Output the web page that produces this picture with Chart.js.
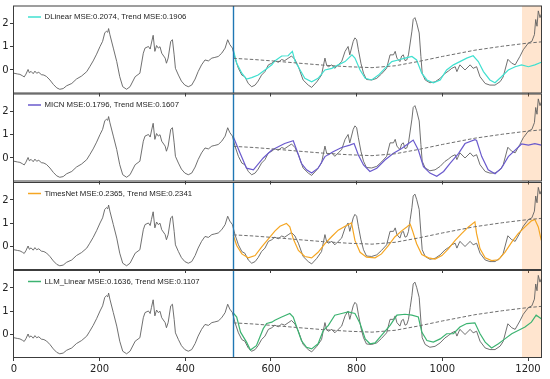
<!DOCTYPE html>
<html>
<head>
<meta charset="utf-8">
<script src="https://cdn.jsdelivr.net/npm/chart.js@4.4.1/dist/chart.umd.min.js"></script>
<style>
  html, body { margin: 0; padding: 0; background: #fff; }
  #wrap { position: relative; width: 550px; height: 379px; overflow: hidden; }
  #wrap canvas { position: absolute; left: 0; }
</style>
</head>
<body>
<div id="wrap">
  <canvas id="p0"></canvas>
  <canvas id="p1"></canvas>
  <canvas id="p2"></canvas>
  <canvas id="p3"></canvas>
</div>
<script>
// ---- data ----
const xTicks = [0, 200, 400, 600, 800, 1000, 1200];
const yTicks = [0, 1, 2];

const splitAt = 512;            // end of input window
const shadeFrom = 1186;         // highlighted tail
const shadeTo = 1232;

// ground truth, same in every panel
const gtX = [0, 8, 14, 20, 24, 28, 33, 36, 40, 45, 49, 53, 58, 64, 70, 76, 84, 92, 100, 107,
  115, 123, 135, 146, 158, 170, 177, 185, 193, 201, 207, 212, 216, 219, 221, 224, 232, 240, 247, 254,
  263, 271, 283, 294, 302, 306, 314, 318, 321, 325, 329, 333, 337, 341, 345, 353, 356, 360, 366, 370,
  374, 377, 384, 391, 399, 407, 415, 423, 430, 438, 446, 454, 462, 469, 477, 485, 493, 499, 504, 510,
  516, 524, 532, 539, 547, 555, 563, 570, 578, 586, 594, 602, 609, 617, 625, 632, 640, 648, 656, 664,
  675, 687, 695, 707, 718, 726, 730, 734, 742, 749, 757, 765, 773, 780, 784, 792, 796, 800, 804, 810,
  816, 823, 835, 847, 858, 870, 878, 886, 890, 894, 901, 905, 909, 913, 917, 921, 925, 929, 932, 936,
  940, 946, 950, 953, 960, 971, 983, 995, 1006, 1014, 1022, 1030, 1034, 1041, 1053, 1065, 1072, 1080, 1088, 1100,
  1111, 1123, 1135, 1142, 1153, 1162, 1170, 1181, 1189, 1201, 1209, 1215, 1218, 1221, 1224, 1228, 1231];
const gtY = [-0.14, -0.17, -0.19, -0.25, -0.3, -0.18, 0.02, -0.12, -0.06, -0.16, -0.05, -0.14, -0.1, -0.2, -0.22, -0.28, -0.43, -0.62, -0.77, -0.83,
  -0.8, -0.68, -0.58, -0.39, -0.26, -0.07, 0.14, 0.39, 0.68, 1.01, 1.23, 1.59, 1.67, 1.62, 1.78, 1.52, 0.94, 0.36, -0.29, -0.72,
  -0.83, -0.72, -0.29, -0.14, 0.72, 0.94, 1.01, 0.9, 1.16, 1.49, 0.8, 1.05, 0.94, 1.0, 0.72, 0.51, 0.29, 0.51, 1.23, 1.3,
  0.65, 0.07, -0.22, -0.48, -0.65, -0.72, -0.65, -0.39, -0.07, 0.22, 0.43, 0.39, 0.51, 0.54, 0.58, 0.72, 0.94, 1.3, 1.09, 0.94,
  0.51, 0.07, -0.22, -0.29, -0.58, -0.72, -0.65, -0.48, -0.22, -0.07, 0.22, 0.29, 0.4, 0.33, 0.45, 0.4, 0.5, 0.6, 0.45, 0.14,
  -0.43, -0.65, -0.75, -0.51, -0.22, 0.51, 0.2, 0.14, 0.22, 0.07, 0.22, 0.36, 0.8, 1.01, 0.65, 1.23, 1.38, 1.3, 0.87, 0.29,
  -0.14, -0.41, -0.43, -0.36, -0.17, 0.07, 0.65, 0.65, 0.8, 0.51, 0.36, 0.6, 0.65, 0.4, 0.43, 0.65, 1.16, 1.67, 2.17, 2.25,
  2.03, 1.59, 0.58, -0.14, -0.43, -0.55, -0.51, -0.36, -0.15, -0.05, 0.07, 0.14, -0.07, 0.22, 0.0, 0.22, 0.07, 0.14, -0.29, -0.58,
  -0.65, -0.65, -0.5, -0.3, 0.46, 0.29, 0.22, 0.58, 0.87, 1.16, 1.23, 1.52, 2.17, 1.88, 2.54, 2.25, 2.4];

// trend of the forecast window (dashed)
const trendX = [512, 560, 609, 660, 720, 780, 836, 890, 943, 1000, 1076, 1140, 1193, 1232];
const trendY = [0.5, 0.45, 0.38, 0.3, 0.21, 0.14, 0.1, 0.18, 0.36, 0.58, 0.85, 1.02, 1.14, 1.21];

// model forecasts
const dlinearX = [512, 520, 532, 543, 555, 570, 586, 602, 609, 625, 640, 650, 656, 668, 679, 695, 710, 726, 742, 757,
  773, 789, 796, 808, 820, 835, 851, 866, 882, 897, 913, 929, 940, 952, 964, 979, 995, 1010, 1026, 1041,
  1057, 1072, 1084, 1096, 1111, 1123, 1138, 1154, 1170, 1185, 1201, 1216, 1231];
const dlinearY = [0.87, 0.29, -0.14, -0.39, -0.33, -0.22, 0.0, 0.22, 0.39, 0.6, 0.61, 0.8, 0.39, 0.0, -0.36, -0.51, -0.36, 0.0, 0.07, 0.22,
  0.36, 0.65, 0.51, 0.0, -0.36, -0.43, -0.22, 0.07, 0.36, 0.43, 0.51, 0.58, 0.43, -0.14, -0.43, -0.55, -0.43, 0.0, 0.22, 0.36,
  0.51, 0.61, 0.36, -0.07, -0.43, -0.55, -0.29, 0.0, 0.14, 0.22, 0.14, 0.22, 0.33];

const micnX = [512, 528, 543, 559, 582, 602, 609, 632, 652, 660, 671, 683, 695, 710, 726, 745, 765, 784, 794, 804,
  816, 831, 847, 866, 886, 905, 921, 932, 944, 956, 971, 987, 1003, 1018, 1038, 1053, 1076, 1080, 1092, 1107,
  1123, 1138, 1154, 1170, 1185, 1201, 1216, 1231];
const micnY = [0.91, 0.2, -0.44, -0.51, 0.0, 0.34, 0.41, 0.62, 0.74, 0.34, -0.23, -0.51, -0.65, -0.44, 0.06, 0.27, 0.45, 0.55, 0.62, 0.13,
  -0.3, -0.58, -0.44, -0.09, 0.2, 0.41, 0.62, 0.77, 0.34, -0.37, -0.65, -0.79, -0.58, -0.23, 0.2, 0.62, 0.79, 0.75, 0.06, -0.51,
  -0.68, -0.44, 0.06, 0.34, 0.6, 0.55, 0.62, 0.55];

const timesnetX = [512, 520, 532, 547, 563, 578, 594, 609, 621, 636, 644, 652, 664, 679, 695, 710, 726, 742, 757, 773,
  788, 796, 808, 823, 843, 858, 874, 889, 905, 917, 925, 930, 940, 952, 968, 983, 999, 1014, 1030, 1045,
  1061, 1076, 1080, 1088, 1100, 1115, 1131, 1146, 1162, 1177, 1193, 1208, 1216, 1224, 1231];
const timesnetY = [0.48, 0.04, -0.32, -0.49, -0.39, -0.03, 0.33, 0.66, 0.87, 0.99, 0.84, 0.33, -0.17, -0.43, -0.49, -0.25, 0.12, 0.43, 0.7, 0.87,
  1.01, 0.26, -0.25, -0.46, -0.49, -0.32, 0.04, 0.41, 0.67, 0.84, 0.96, 0.7, 0.12, -0.35, -0.49, -0.54, -0.39, -0.1, 0.26, 0.55,
  0.84, 1.06, 0.55, -0.1, -0.49, -0.61, -0.57, -0.25, 0.19, 0.55, 0.84, 1.1, 1.16, 0.84, 0.26];

const llmX = [512, 520, 529, 543, 552, 566, 582, 590, 602, 609, 625, 644, 652, 660, 671, 683, 695, 710, 722, 734,
  749, 765, 780, 796, 808, 820, 831, 843, 858, 878, 894, 913, 929, 944, 952, 964, 979, 995, 1010, 1026,
  1041, 1057, 1076, 1088, 1100, 1115, 1131, 1146, 1162, 1177, 1193, 1208, 1219, 1231];
const llmY = [0.93, 0.75, 0.1, -0.33, -0.67, -0.48, 0.25, 0.47, 0.53, 0.61, 0.75, 0.9, 0.75, 0.32, -0.26, -0.55, -0.62, -0.4, 0.17, 0.39,
  0.83, 0.9, 0.97, 0.9, 0.47, -0.19, -0.4, -0.36, -0.04, 0.39, 0.83, 0.87, 0.83, 0.75, 0.1, -0.26, -0.33, -0.19, 0.03, 0.03,
  0.32, 0.47, 0.5, 0.03, -0.33, -0.58, -0.4, -0.19, 0.03, 0.17, 0.32, 0.53, 0.83, 0.68];

const panels = [
  { label: 'DLinear MSE:0.2074, Trend MSE:0.1906',    color: '#40e0d0', xs: dlinearX,  ys: dlinearY },
  { label: 'MICN MSE:0.1796, Trend MSE:0.1607',       color: '#6a5acd', xs: micnX,     ys: micnY },
  { label: 'TimesNet MSE:0.2365, Trend MSE:0.2341',   color: '#f5a623', xs: timesnetX, ys: timesnetY },
  { label: 'LLM_Linear MSE:0.1636, Trend MSE:0.1107', color: '#3cb371', xs: llmX,      ys: llmY }
];

// ---- layout ----
const PANEL_TOP = [6, 94, 182.5, 270.5];
const PANEL_H = 87;
const PLOT_LEFT = 13.5;
const PLOT_RIGHT = 541.5;
const TICK_FONT = { family: '"DejaVu Sans", sans-serif', size: 10 };

function pts(xs, ys) {
  return xs.map((x, i) => ({ x: x, y: ys[i] }));
}

// shaded tail, split line, frame and in-axes legend
const panelDecor = {
  id: 'panelDecor',
  beforeDatasetsDraw(chart) {
    const { ctx, chartArea: a, scales: { x } } = chart;
    const x0 = x.getPixelForValue(shadeFrom);
    const x1 = Math.min(x.getPixelForValue(shadeTo), a.right);
    ctx.save();
    ctx.fillStyle = 'rgba(255, 127, 14, 0.2)';
    ctx.fillRect(x0, a.top, x1 - x0, a.bottom - a.top);
    ctx.restore();
  },
  afterDatasetsDraw(chart, args, opts) {
    const { ctx, chartArea: a, scales: { x } } = chart;
    ctx.save();
    // split line
    const xs = Math.round(x.getPixelForValue(splitAt)) + 0.5;
    ctx.strokeStyle = '#1f77b4';
    ctx.lineWidth = 1.4;
    ctx.beginPath();
    ctx.moveTo(xs, a.top);
    ctx.lineTo(xs, a.bottom);
    ctx.stroke();
    // frame
    ctx.strokeStyle = '#3c3c3c';
    ctx.lineWidth = 1;
    ctx.strokeRect(a.left, a.top, a.right - a.left, a.bottom - a.top);
    // legend
    const ly = a.top + 11;
    ctx.strokeStyle = opts.color;
    ctx.lineWidth = 1.5;
    ctx.beginPath();
    ctx.moveTo(28, ly);
    ctx.lineTo(41, ly);
    ctx.stroke();
    ctx.fillStyle = '#222';
    ctx.font = '7.8px "Liberation Sans", Arial, sans-serif';
    ctx.textBaseline = 'middle';
    ctx.fillText(opts.label, 44.5, ly);
    ctx.restore();
  }
};

function makePanel(i) {
  const p = panels[i];
  const isBottom = i === panels.length - 1;
  const top = PANEL_TOP[i];
  const canvasTop = Math.floor(top) - 2;
  const xAxisH = isBottom ? 22 : 5;
  const h = Math.ceil((top - canvasTop) + PANEL_H + xAxisH);

  const canvas = document.getElementById('p' + i);
  canvas.width = 550;
  canvas.height = h;
  canvas.style.top = canvasTop + 'px';

  new Chart(canvas, {
    type: 'line',
    data: {
      datasets: [
        { data: pts(trendX, trendY), borderColor: '#6e6e6e', borderWidth: 1, borderDash: [3.5, 2] },
        { data: pts(p.xs, p.ys), borderColor: p.color, borderWidth: 1.2 },
        { data: pts(gtX, gtY), borderColor: '#606060', borderWidth: 0.9 }
      ]
    },
    options: {
      responsive: false,
      animation: false,
      parsing: false,
      layout: { padding: { top: top - canvasTop, left: 0, right: 550 - PLOT_RIGHT, bottom: h - (top - canvasTop) - PANEL_H - xAxisH } },
      elements: { point: { radius: 0 }, line: { tension: 0, fill: false } },
      plugins: {
        legend: { display: false },
        tooltip: { enabled: false },
        panelDecor: { label: p.label, color: p.color }
      },
      scales: {
        x: {
          type: 'linear',
          min: -1,
          max: 1231.5,
          border: { display: false },
          grid: { drawOnChartArea: false, drawTicks: true, tickLength: 3.5, color: '#3c3c3c', lineWidth: 1 },
          ticks: {
            display: isBottom,
            padding: 2,
            color: '#222',
            font: TICK_FONT,
            maxRotation: 0,
            callback: v => String(v)
          },
          afterBuildTicks: s => { s.ticks = xTicks.map(v => ({ value: v })); },
          afterFit: s => { s.height = xAxisH; s.paddingLeft = 0; s.paddingRight = 0; }
        },
        y: {
          min: -0.99,
          max: 2.75,
          border: { display: false },
          grid: { drawOnChartArea: false, drawTicks: true, tickLength: 3.5, color: '#3c3c3c', lineWidth: 1 },
          ticks: { padding: 1.3, color: '#222', font: TICK_FONT, callback: v => String(v) },
          afterBuildTicks: s => { s.ticks = yTicks.map(v => ({ value: v })); },
          afterFit: s => { s.width = PLOT_LEFT; s.paddingTop = 0; s.paddingBottom = 0; }
        }
      }
    },
    plugins: [panelDecor]
  });
}

for (let i = 0; i < panels.length; i++) makePanel(i);
</script>
</body>
</html>
